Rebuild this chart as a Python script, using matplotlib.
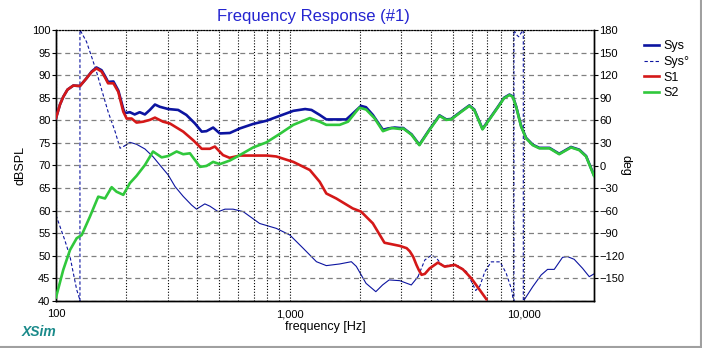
#frequency response chart (XSim style)

import numpy as np
import matplotlib.pyplot as plt
from matplotlib.lines import Line2D
from matplotlib.ticker import FixedLocator, NullFormatter

plt.rcParams['font.family'] = ['Liberation Sans', 'DejaVu Sans']

#data

sys_f = [100, 104, 107.4, 112, 118.6, 126.6, 135, 142, 149, 156.6, 162, 167, 176, 184.7, 194,
         197, 207, 217, 228, 240, 252, 265, 278, 302, 333, 361, 393, 420, 440, 470, 502, 554,
         611, 697, 793, 906, 1035, 1163, 1238, 1342, 1433, 1744, 1833, 2016, 2118, 2265, 2502,
         2630, 2810, 2953, 3055, 3317, 3582, 3960, 4367, 4670, 4898, 5415, 5860, 6150, 6670,
         7120, 7720, 8250, 8700, 8990, 9290, 9760, 10250, 10940, 11680, 12900, 14200, 15950,
         17300, 18500, 20000]
sys_db = [80.5, 83.5, 85.2, 86.8, 87.7, 87.6, 89.3, 90.8, 91.7, 91.1, 89.8, 88.5, 88.6, 86.6, 82.5,
          81.6, 81.8, 81.3, 81.8, 81.3, 82.3, 83.5, 83.0, 82.5, 82.3, 81.2, 79.3, 77.5, 77.6, 78.4,
          77.1, 77.2, 78.2, 79.2, 79.9, 81.0, 82.1, 82.5, 82.3, 81.2, 80.2, 80.2, 81.2, 83.2, 82.9,
          81.2, 77.9, 78.2, 78.4, 78.3, 78.3, 76.9, 74.6, 78.0, 81.1, 80.2, 80.3, 82.0, 83.3, 82.4,
          78.1, 80.2, 82.8, 85.0, 85.7, 85.3, 83.1, 78.7, 76.1, 74.6, 73.9, 73.9, 72.6, 74.1, 73.5,
          72.1, 67.8]

s1_f = [100, 104, 107.4, 112, 118.6, 126.6, 135, 142, 149, 156.6, 162, 167, 176, 184.7, 194, 200.5,
        210.6, 221, 236, 252, 265, 287, 307, 350, 386, 420, 455, 478, 518, 553, 611, 700, 800, 875,
        1035, 1218, 1342, 1433, 1580, 1858, 2016, 2265, 2540, 2953, 3160, 3260, 3370, 3480, 3560,
        3660, 3780, 3960, 4300, 4600, 5080, 5500, 5980, 6500, 6930]
s1_db = [80.5, 83.5, 85.2, 86.8, 87.7, 87.6, 89.3, 90.7, 91.5, 90.8, 89.5, 88.2, 88.2, 86.3, 81.9,
         80.4, 80.4, 79.5, 79.7, 80.1, 80.6, 79.7, 79.3, 77.5, 75.6, 73.7, 73.7, 74.2, 72.3, 71.7,
         72.2, 72.2, 72.2, 72.0, 70.8, 69.0, 66.4, 63.8, 62.7, 60.5, 59.8, 57.2, 52.9, 52.2, 51.7,
         51.0, 49.8, 48.0, 46.9, 45.8, 46.0, 47.2, 48.5, 47.6, 48.0, 47.0, 45.0, 42.4, 40.4]

s2_f = [100, 107.4, 114.8, 122.6, 128.8, 139.7, 151.6, 162, 173, 181.5, 194, 207, 221, 240, 260,
        283, 302, 328, 350, 374, 413, 440, 470, 502, 554, 611, 697, 793, 906, 1035, 1218, 1342,
        1433, 1634, 1774, 1982, 2118, 2300, 2502, 2722, 2953, 3055, 3317, 3582, 3960, 4367, 4670,
        4898, 5415, 5860, 6150, 6670, 7120, 7720, 8250, 8700, 8990, 9290, 9760, 10250, 10940,
        11680, 12900, 14200, 15950, 17300, 18500, 20000]
s2_db = [40.8, 46.9, 51.3, 53.9, 54.6, 58.7, 63.1, 62.7, 65.2, 64.2, 63.5, 66.1, 67.7, 70.1, 73.1,
         71.8, 72.1, 73.1, 72.5, 72.7, 69.7, 69.9, 70.8, 70.3, 71.1, 72.3, 74.0, 75.1, 77.0, 79.0,
         80.5, 79.7, 79.0, 79.0, 79.7, 82.8, 82.4, 80.5, 77.6, 78.3, 78.1, 78.2, 76.8, 74.5, 77.9,
         81.0, 80.1, 80.2, 81.9, 83.2, 82.3, 78.0, 80.1, 82.7, 84.9, 85.6, 85.2, 83.0, 78.6, 76.0,
         74.5, 73.8, 73.8, 72.5, 74.0, 73.4, 72.0, 67.7]

ph_f = [100, 104, 109, 114.8, 118.6, 122.6, 125.8, 126.6, 126.6, 127.4, 135, 142, 149, 157, 167,
        179, 188, 197, 207, 221, 240, 260, 278, 302, 323, 350, 380, 399, 433, 455, 494, 528, 572,
        632, 743, 875, 1000, 1141, 1300, 1433, 1634, 1833, 1925, 2118, 2333, 2493, 2660, 2953,
        3308, 3533, 3780, 4040, 4240, 4530, 4760, 5260, 5700, 5980, 6240, 6500, 6830, 7270, 7930,
        8420, 8890, 9000, 9090, 9090, 9300, 9530, 9800, 9970, 9970, 10090, 10940, 11880, 12660,
        13520, 14670, 15400, 16450, 17870, 19090, 20000]
ph_deg = [-66, -81, -99, -121, -143, -165, -176, -180, 180, 178.7, 164.5, 144.5, 124.6, 100, 71.5,
          45, 22.9, 26.3, 30.8, 28.2, 22, 11.7, 0.7, -12.6, -28, -41, -52.5, -58, -51, -54, -61.4,
          -58, -58, -61.3, -77, -83.5, -92.3, -110, -127.8, -133, -130.8, -127.8, -134, -156.5,
          -167.6, -158.7, -152, -153, -158.7, -147.8, -125.5, -119, -123, -134.4, -132, -133, -141,
          -154, -166, -160, -141, -128, -128, -143, -165, -176, -180, 180, 174, 171, 177, 180,
          -180, -177.8, -161, -145.5, -138, -138, -122, -121, -124.6, -136.6, -147.7, -144]

c_sys = '#0c14a0'
c_s1 = '#d41818'
c_s2 = '#30c83c'

fig = plt.figure(figsize=(7.02, 3.48), dpi=100)
ax = fig.add_axes([56/702, 1-301/348, 538/702, 271/348])
ax2 = ax.twinx()

ax.set_xscale('log')
ax.set_xlim(100, 20000)
ax.set_ylim(40, 100)
ax2.set_ylim(-180, 180)

ax.plot(sys_f, sys_db, color=c_sys, lw=1.9, zorder=3)
pf = np.array(ph_f)
pd_ = np.array(ph_deg)
dash = (pf <= 200) | ((pf >= 3500) & (pf <= 10090))
solid = ~dash
# overlap one point at the boundaries so the line is continuous
solid = solid | np.roll(solid, 1) | np.roll(solid, -1)
ax2.plot(np.where(solid, pf, np.nan), pd_, color=c_sys, lw=0.8)
ax2.plot(np.where(dash, pf, np.nan), pd_, color=c_sys, lw=0.8, linestyle=(0, (3, 2)))
ax.plot(s1_f, s1_db, color=c_s1, lw=1.9, zorder=4)
ax.plot(s2_f, s2_db, color=c_s2, lw=1.9, zorder=5)
ax2.set_zorder(ax.get_zorder() - 1)
ax.patch.set_visible(False)

#grid
minors = [m * 10**d for d in (2, 3, 4) for m in range(2, 10) if m * 10**d < 20000]
ax.xaxis.set_major_locator(FixedLocator([100, 1000, 10000]))
ax.xaxis.set_minor_locator(FixedLocator(minors))
ax.xaxis.set_minor_formatter(NullFormatter())
ax.set_xticklabels(['100', '1,000', '10,000'])
ax.grid(True, which='both', axis='x', color='black', lw=0.8, linestyle=(0, (1, 1.6)))
ax.set_yticks(np.arange(40, 101, 5))
ax.grid(True, which='major', axis='y', color='#808080', lw=0.9, linestyle=(0, (4, 3)))
ax2.set_yticks(np.arange(-150, 181, 30))

ax.tick_params(axis='x', which='both', length=0, labelsize=8, pad=6)
ax.tick_params(axis='y', length=3, labelsize=8, pad=1)
ax2.tick_params(axis='y', length=3, labelsize=8, pad=1)

for a in (ax, ax2):
    a.spines['top'].set_linestyle((0, (1, 1.6)))
    a.spines['top'].set_linewidth(0.8)
    a.spines['left'].set_linewidth(1.0)
    a.spines['bottom'].set_linewidth(1.0)
    a.spines['right'].set_linewidth(1.0)

ax.set_xlabel('frequency [Hz]', fontsize=9, labelpad=1)
ax.set_ylabel('dBSPL', fontsize=9, labelpad=4)
ax2.set_ylabel('deg', fontsize=9, rotation=270, labelpad=5)
fig.text(313/702, 1-17/348, 'Frequency Response (#1)', color='#2424d0', fontsize=12,
         ha='center', va='center')
fig.text(22/702, 1-332/348, 'XSim', color='#1a8a8a', fontsize=10, fontweight='bold',
         fontstyle='italic', ha='left', va='center')

#legend
handles = [Line2D([], [], color=c_sys, lw=1.9),
           Line2D([], [], color=c_sys, lw=0.8, linestyle=(0, (3, 2))),
           Line2D([], [], color=c_s1, lw=1.9),
           Line2D([], [], color=c_s2, lw=1.9)]
fig.legend(handles, ['Sys', 'Sys°', 'S1', 'S2'], loc='upper left',
           bbox_to_anchor=(638/702, 1-34/348), frameon=False, fontsize=9,
           handlelength=1.2, handletextpad=0.3, labelspacing=0.3, borderpad=0)

#border lines of the window
fig.add_artist(Line2D([0, 1], [1/348, 1/348], color='#a0a0a0', lw=1.5))
fig.add_artist(Line2D([1-1.5/702, 1-1.5/702], [0, 1], color='#a0a0a0', lw=1.5))

plt.savefig('out.png', dpi=100)
